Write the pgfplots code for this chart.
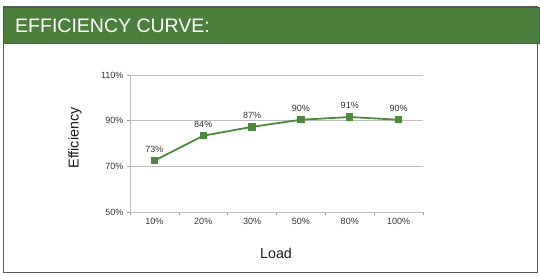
\documentclass[border=0pt]{standalone}
\usepackage{fontspec}
\setmainfont{Liberation Sans}
\usepackage{pgfplots}
\pgfplotsset{compat=1.18}
\definecolor{hdr}{HTML}{4A7F3C}
\definecolor{hdrb}{HTML}{2E5E8C}
\definecolor{ln}{HTML}{4C8B3A}
\definecolor{txt}{HTML}{333333}
\begin{document}
\begin{tikzpicture}
\fill[white] (0pt,0pt) rectangle (540pt,276pt);
\draw[black!65, line width=1.6pt] (3.5pt,3.5pt) rectangle (537.5pt,269pt);
\fill[hdr] (3pt,233pt) rectangle (539pt,269pt);
\draw[hdrb, line width=0.8pt] (3pt,233pt) rectangle (539pt,269pt);
\node[anchor=base west, text=white, font=\fontsize{19.5}{22}\selectfont, inner sep=0pt] at (15pt,243pt) {EFFICIENCY CURVE:};
\node[rotate=90, font=\fontsize{14.3}{16}\selectfont, text=black!90] at (75pt,138pt) {Efficiency};
\node[font=\fontsize{14.3}{16}\selectfont, text=black!90] at (276pt,23pt) {Load};
\begin{axis}[
  at={(130pt,64pt)}, anchor=south west,
  width=293pt, height=137pt, scale only axis,
  xmin=-0.5, xmax=5.5, ymin=50, ymax=110,
  axis x line=bottom, axis y line=left,
  axis line style={-, black!25, line width=0.8pt},
  xtick={0,1,2,3,4,5},
  xticklabels={10\%,20\%,30\%,50\%,80\%,100\%},
  minor xtick={-0.5,0.5,1.5,2.5,3.5,4.5,5.5},
  ytick={50,70,90,110},
  yticklabels={50\%,70\%,90\%,110\%},
  major x tick style={draw=none},
  minor x tick style={black!40, line width=0.6pt},
  y tick style={black!40, line width=0.6pt},
  tick align=outside,
  minor tick length=3pt, major tick length=3pt,
  ymajorgrids,
  grid style={black!25, line width=0.8pt},
  tick label style={font=\fontsize{9}{10}\selectfont, text=txt},
  /pgf/number format/assume math mode=true,
  clip=false,
]
\addplot[ln, line width=1.8pt, mark=square*, mark size=2.8pt,
  mark options={solid, fill=ln, draw=ln},
  nodes near coords={\pgfmathprintnumber{\pgfplotspointmeta}\%},
  point meta=explicit,
  every node near coord/.style={font=\fontsize{9}{10}\selectfont, text=txt, anchor=south, yshift=4pt}]
table[meta=lab] {
x y lab
0 72.5 73
1 83.4 84
2 87.3 87
3 90.4 90
4 91.6 91
5 90.4 90
};
\end{axis}
\end{tikzpicture}
\end{document}
